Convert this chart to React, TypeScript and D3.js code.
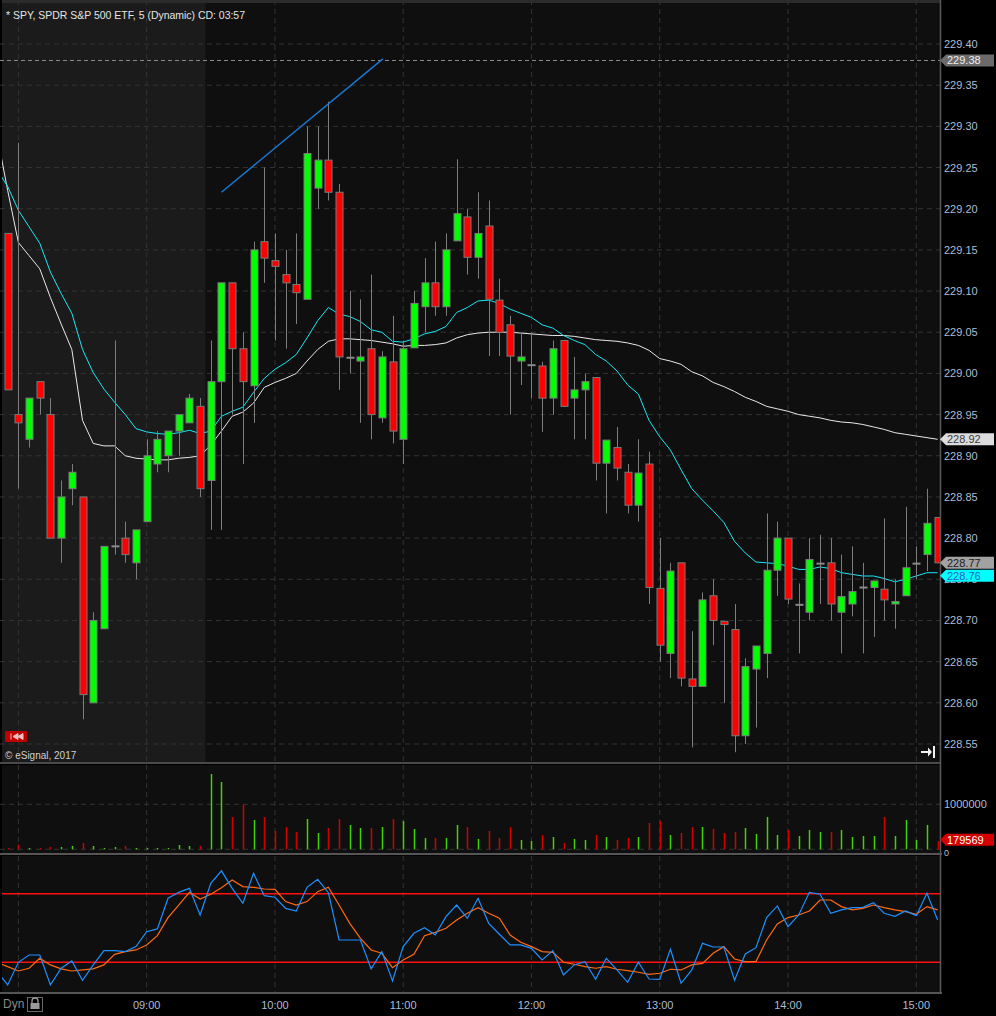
import React from 'react';
import * as d3 from 'd3';

// 5-minute bars, 07:55 .. 15:10
const opens = [
  229.17, 228.95, 228.92, 228.99, 228.95, 228.80, 228.86, 228.85, 228.60, 228.69,
  228.79, 228.80, 228.77, 228.82, 228.89, 228.90, 228.93, 228.94, 228.96, 228.87,
  228.99, 229.11, 229.03, 228.985, 229.16, 229.137, 229.12, 229.108, 229.09, 229.225,
  229.259, 229.22, 229.019, 229.015, 229.03, 228.946, 229.014, 228.92, 229.031, 229.081,
  229.11, 229.081, 229.161, 229.19, 229.141, 229.179, 229.089, 229.059, 229.015, 229.01,
  229.009, 228.97, 229.04, 228.97, 228.98, 228.995, 228.891, 228.91, 228.88, 228.84,
  228.89, 228.739, 228.66, 228.77, 228.629, 228.62, 228.73, 228.699, 228.689, 228.56,
  228.641, 228.66, 228.761, 228.80, 228.719, 228.71, 228.769, 228.77, 228.71, 228.72,
  228.74, 228.74, 228.738, 228.72, 228.73, 228.769, 228.78, 228.825,
];
const highs = [
  229.17, 229.28, 228.97, 228.99, 228.97, 228.87, 228.89, 228.85, 228.71, 228.79,
  229.04, 228.82, 228.81, 228.92, 228.93, 228.93, 228.95, 228.975, 228.97, 229.04,
  229.11, 229.11, 229.05, 229.16, 229.25, 229.17, 229.15, 229.17, 229.30, 229.30,
  229.33, 229.23, 229.10, 229.09, 229.12, 229.027, 229.07, 229.04, 229.10, 229.14,
  229.16, 229.17, 229.26, 229.20, 229.22, 229.21, 229.115, 229.07, 229.05, 229.05,
  229.014, 229.04, 229.04, 229.02, 229.00, 228.995, 228.919, 228.935, 228.89, 228.92,
  228.905, 228.80, 228.77, 228.77, 228.687, 228.734, 228.75, 228.699, 228.72, 228.654,
  228.669, 228.83, 228.82, 228.80, 228.745, 228.80, 228.804, 228.80, 228.78, 228.79,
  228.77, 228.748, 228.824, 228.75, 228.838, 228.79, 228.86, 228.825,
];
const lows = [
  228.98, 228.86, 228.91, 228.95, 228.80, 228.77, 228.84, 228.58, 228.60, 228.69,
  228.78, 228.77, 228.75, 228.82, 228.88, 228.88, 228.90, 228.94, 228.85, 228.81,
  228.81, 228.95, 228.89, 228.94, 229.11, 229.04, 229.03, 229.06, 229.09, 229.20,
  229.21, 228.98, 229.00, 228.94, 228.92, 228.94, 228.915, 228.89, 229.031, 229.05,
  229.07, 229.07, 229.161, 229.12, 229.115, 229.021, 229.021, 228.95, 228.986, 228.97,
  228.929, 228.95, 228.96, 228.92, 228.92, 228.87, 228.83, 228.87, 228.83, 228.82,
  228.72, 228.65, 228.63, 228.62, 228.546, 228.62, 228.67, 228.60, 228.54, 228.55,
  228.57, 228.63, 228.73, 228.72, 228.66, 228.70, 228.72, 228.70, 228.66, 228.705,
  228.66, 228.68, 228.70, 228.69, 228.73, 228.75, 228.76, 228.77,
];
const closes = [
  228.98, 228.94, 228.97, 228.97, 228.80, 228.85, 228.88, 228.61, 228.70, 228.79,
  228.79, 228.78, 228.81, 228.90, 228.92, 228.93, 228.95, 228.97, 228.86, 228.99,
  229.11, 229.03, 228.99, 229.15, 229.14, 229.13, 229.11, 229.098, 229.267, 229.259,
  229.22, 229.02, 229.019, 229.02, 228.95, 229.02, 228.93, 229.03, 229.085, 229.11,
  229.081, 229.15, 229.194, 229.141, 229.17, 229.09, 229.05, 229.021, 229.02, 229.01,
  228.97, 229.03, 228.96, 228.98, 228.99, 228.891, 228.919, 228.885, 228.84, 228.879,
  228.74, 228.67, 228.76, 228.63, 228.62, 228.725, 228.70, 228.695, 228.56, 228.644,
  228.669, 228.761, 228.80, 228.726, 228.719, 228.774, 228.769, 228.72, 228.729, 228.735,
  228.74, 228.748, 228.725, 228.723, 228.764, 228.769, 228.818, 228.77,
];
const volumes = [
  30000, 104000, 30000, 30000, 52000, 52000, 74000, 141000, 74000, 30000,
  52000, 74000, 30000, 30000, 30000, 30000, 96000, 74000, 74000, 1674000,
  1496000, 719000, 1000000, 652000, 719000, 407000, 496000, 385000, 674000, 363000,
  474000, 674000, 541000, 474000, 474000, 496000, 674000, 630000, 452000, 252000,
  252000, 252000, 541000, 496000, 230000, 407000, 252000, 496000, 207000, 185000,
  319000, 274000, 141000, 230000, 207000, 319000, 274000, 207000, 252000, 274000,
  585000, 630000, 319000, 363000, 496000, 496000, 452000, 363000, 385000, 474000,
  341000, 719000, 319000, 430000, 296000, 430000, 385000, 385000, 430000, 274000,
  296000, 296000, 719000, 296000, 652000, 207000, 541000, 179569,
];
// moving averages start one bar earlier (07:50) so the lines reach the left edge
const fastMa = [
  229.247,
  229.227, 229.198, 229.178, 229.158, 229.123, 229.097, 229.073, 229.029, 229.001, 228.981,
  228.965, 228.95, 228.933, 228.929, 228.927, 228.926, 228.928, 228.931, 228.927, 228.93,
  228.948, 228.954, 228.959, 228.977, 228.994, 229.005, 229.013, 229.023, 229.043, 229.064,
  229.08, 229.072, 229.069, 229.063, 229.053, 229.05, 229.039, 229.038, 229.042, 229.048,
  229.051, 229.057, 229.074, 229.08, 229.088, 229.089, 229.085, 229.078, 229.073, 229.068,
  229.059, 229.055, 229.046, 229.04, 229.035, 229.023, 229.015, 229.003, 228.986, 228.975,
  228.943, 228.923, 228.907, 228.883, 228.86, 228.846, 228.833, 228.819, 228.796, 228.782,
  228.771, 228.77, 228.769, 228.766, 228.762, 228.762, 228.765, 228.763, 228.758, 228.756,
  228.754, 228.754, 228.751, 228.747, 228.75, 228.754, 228.758, 228.758,
];
const slowMa = [
  229.29,
  229.222, 229.159, 229.143, 229.127, 229.092, 229.06, 229.029, 228.943, 228.915, 228.912,
  228.912, 228.90, 228.897, 228.896, 228.895, 228.895, 228.897, 228.898, 228.90, 228.913,
  228.93, 228.948, 228.953, 228.964, 228.983, 228.989, 228.994, 229.0, 229.015, 229.029,
  229.039, 229.042, 229.042, 229.041, 229.04, 229.038, 229.036, 229.033, 229.034, 229.034,
  229.035, 229.037, 229.043, 229.047, 229.049, 229.05, 229.05, 229.05, 229.049, 229.048,
  229.047, 229.046, 229.046, 229.045, 229.043, 229.041, 229.04, 229.039, 229.037, 229.034,
  229.028, 229.018, 229.015, 229.011, 229.002, 228.997, 228.989, 228.984, 228.978, 228.971,
  228.966, 228.96, 228.957, 228.954, 228.95, 228.948, 228.946, 228.943, 228.941, 228.94,
  228.938, 228.935, 228.932, 228.928, 228.926, 228.924, 228.922, 228.92,
];
const stochK = [
  12,
  0.2, 20, 26.4, 26.4, 0.2, 14.8, 21.2, 4.3, 17.7, 30.2,
  30.2, 29.3, 33.7, 46.8, 49.2, 76, 81.2, 84.7, 61.4, 89.1,
  100, 84.7, 71.6, 97.8, 78.3, 76.9, 67.2, 64.9, 85.6, 92.6,
  80.9, 39.5, 39.5, 39.5, 14.2, 29.3, 3.7, 33.7, 45.4, 50.3,
  43.9, 59.9, 70.1, 58.5, 76, 54.1, 44.5, 35.2, 35.2, 32.2,
  22, 30.2, 8.9, 17.7, 20.6, 5.1, 23.5, 13.3, 2.5, 20,
  5.4, 5.1, 31.4, 1.6, 13.3, 36.6, 33.4, 33.4, 4.3, 27.3,
  32.8, 59.1, 69.3, 51.2, 61.4, 81.2, 79.5, 62.9, 65.8, 67.8,
  68.1, 72.2, 62.9, 60.2, 64.9, 60.8, 80.3, 57,
];
const stochD = [
  20,
  16.2, 12.4, 14.8, 23.5, 17.7, 14.2, 12.4, 13.3, 14.2, 17.7,
  27, 29.3, 30.8, 35.2, 43.3, 59.1, 70.1, 81.2, 75.4, 79.5,
  85.3, 92, 86.2, 85.6, 84.1, 83.8, 73.1, 70.1, 73.1, 81.8,
  85.6, 70.1, 54.1, 41, 30.8, 27.9, 15.3, 22, 27, 43.3,
  46.2, 49.7, 57, 62.9, 67.8, 62.9, 58.5, 43.9, 37.5, 33.7,
  29.3, 28.7, 20, 18.3, 16.2, 14.8, 16.2, 13.9, 12.7, 11.3,
  9.5, 10.4, 13.9, 13.3, 17.7, 19.1, 27.9, 33.7, 22.9, 20.6,
  20.6, 39.5, 53.5, 59.1, 61.4, 64.9, 74.5, 74.5, 68.7, 65.8,
  67.2, 70.1, 67.8, 65.8, 64.3, 62, 68.7, 65.8,
];
const priceTicks = [
  229.40, 229.35, 229.30, 229.25, 229.20, 229.15, 229.10, 229.05, 229.00,
  228.95, 228.90, 228.85, 228.80, 228.75, 228.70, 228.65, 228.60, 228.55,
];
const hourGridBars = [1, 13, 25, 37, 49, 61, 73, 85];
const hourLabels = ['09:00', '10:00', '11:00', '12:00', '13:00', '14:00', '15:00'];
const hourLabelBars = [13, 25, 37, 49, 61, 73, 85];
const trendBars = [20, 35.1];
const trendPrices = [229.22, 229.382];
const alertPrice = 229.38;
const premarketEnd = 18.5;

const W = 996;
const H = 1016;
const PR = 940;
const FONT = '"Liberation Sans", Arial, sans-serif';
const AXIS_CLR = '#aebdd2';
const GRID = '#333333';

function Tag({ yc, text, bg, fg }: { yc: number; text: string; bg: string; fg: string }) {
  const h = 6;
  return (
    <g>
      <polygon
        points={`${PR},${yc} ${PR + 6},${yc - h} ${W - 2},${yc - h} ${W - 2},${yc + h} ${PR + 6},${yc + h}`}
        fill={bg}
      />
      <text x={PR + 7} y={yc + 4} fill={fg} fontSize={11} fontFamily={FONT}>
        {text}
      </text>
    </g>
  );
}

export default function App() {
  const x = d3.scaleLinear().domain([-0.72, 87.22]).range([0, PR]);
  const y = d3.scaleLinear().domain([228.55, 229.4]).range([744, 44]);
  const yVol = d3.scaleLinear().domain([0, 1000000]).range([849.3, 804.3]);
  const yOsc = d3.scaleLinear().domain([20, 80]).range([962.3, 893.7]);

  // indicator arrays carry one leading bar (index -1)
  const priceLine = d3.line<number>().x((_, i) => x(i - 1)).y(d => y(d));
  const oscLine = d3.line<number>().x((_, i) => x(i - 1)).y(d => yOsc(d));

  const shadeX = x(premarketEnd);
  const last = closes.length - 1;

  return (
    <svg
      width={W}
      height={H}
      style={{ position: 'absolute', left: 0, top: 0, background: '#000' }}
    >
      <defs>
        <clipPath id="pricePane">
          <rect x={2} y={0} width={PR - 2} height={763} />
        </clipPath>
        <clipPath id="oscPane">
          <rect x={2} y={856} width={PR - 2} height={136} />
        </clipPath>
      </defs>

      {/* pane backgrounds */}
      <rect x={0} y={0} width={PR} height={763} fill="#0f0f0f" />
      <rect x={0} y={0} width={shadeX} height={763} fill="#1b1b1b" />
      <rect x={0} y={0} width={PR} height={3} fill="#2b2b2b" />
      <rect x={0} y={765} width={PR} height={88} fill="#0f0f0f" />
      <rect x={0} y={856} width={PR} height={137} fill="#0f0f0f" />
      <rect x={0} y={0} width={2} height={993} fill="#000" />

      {/* price grid */}
      {priceTicks.map(p => (
        <line key={p} x1={0} x2={PR} y1={y(p)} y2={y(p)} stroke={GRID} strokeDasharray="5,4" />
      ))}
      {hourGridBars.map(b => (
        <g key={b}>
          <line x1={x(b)} x2={x(b)} y1={0} y2={763} stroke={GRID} strokeDasharray="5,4" />
          <line x1={x(b)} x2={x(b)} y1={765} y2={853} stroke={GRID} strokeDasharray="5,4" />
          <line x1={x(b)} x2={x(b)} y1={856} y2={993} stroke={GRID} strokeDasharray="5,4" />
        </g>
      ))}

      {/* alert line */}
      <line x1={0} x2={PR} y1={y(alertPrice)} y2={y(alertPrice)} stroke="#8c8c8c" strokeDasharray="4,3" />

      <g clipPath="url(#pricePane)">
        {/* moving averages */}
        <path d={priceLine(slowMa) || ''} fill="none" stroke="#e8e8e8" strokeWidth={1} />
        <path d={priceLine(fastMa) || ''} fill="none" stroke="#19e6f5" strokeWidth={1} />

        {/* candles */}
        {opens.map((o, i) => {
          const c = closes[i];
          const cx = Math.round(x(i)) + 0.5;
          const up = c >= o;
          const top = y(Math.max(o, c));
          const bot = y(Math.min(o, c));
          return (
            <g key={i}>
              <line x1={cx} x2={cx} y1={y(highs[i])} y2={y(lows[i])} stroke="#7d7d7d" strokeWidth={1} />
              {o === c ? (
                <line x1={cx - 4} x2={cx + 4} y1={top} y2={top} stroke="#8a8a8a" strokeWidth={2} />
              ) : (
                <rect
                  x={cx - 3.5}
                  y={top}
                  width={7}
                  height={Math.max(1.5, bot - top)}
                  fill={up ? '#00ff00' : '#ff0000'}
                  stroke="#7a7a7a"
                  strokeWidth={1}
                />
              )}
            </g>
          );
        })}

        {/* trend line */}
        <line
          x1={x(trendBars[0])}
          y1={y(trendPrices[0])}
          x2={x(trendBars[1])}
          y2={y(trendPrices[1])}
          stroke="#1a78d2"
          strokeWidth={1.5}
        />
      </g>

      {/* header */}
      <text
        x={6}
        y={19}
        fill="#e4e4e4"
        fontSize={11.5}
        fontFamily={FONT}
        textLength={239}
        lengthAdjust="spacingAndGlyphs"
      >
        * SPY, SPDR S&amp;P 500 ETF, 5 (Dynamic) CD: 03:57
      </text>

      {/* small widgets in price pane */}
      <rect x={5} y={731} width={22} height={11} rx={1} fill="#c00000" />
      <path d="M11,733.5 L11,739.5 M18,733.5 L13,736.5 L18,739.5 Z M23,733.5 L18,736.5 L23,739.5 Z" stroke="#f0c0c0" fill="#f0c0c0" strokeWidth={1} />
      <text x={5} y={759} fill="#d0d0d0" fontSize={10} fontFamily={FONT}>
        © eSignal, 2017
      </text>
      <path d="M921,751 L928,751 L928,747.5 L932,752 L928,756.5 L928,753 L921,753 Z" fill="#f2f2f2" />
      <rect x={933} y={746} width={2} height={12} fill="#f2f2f2" />

      {/* volume */}
      <line x1={0} x2={PR} y1={yVol(1000000)} y2={yVol(1000000)} stroke={GRID} strokeDasharray="5,4" />
      <line x1={0} x2={PR} y1={yVol(0)} y2={yVol(0)} stroke={GRID} strokeDasharray="5,4" />
      {volumes.map((v, i) => (
        <line
          key={i}
          x1={Math.round(x(i)) + 0.5}
          x2={Math.round(x(i)) + 0.5}
          y1={yVol(0)}
          y2={yVol(v)}
          stroke={closes[i] >= opens[i] ? '#42d400' : '#d40000'}
          strokeWidth={1.5}
        />
      ))}

      {/* oscillator */}
      <g clipPath="url(#oscPane)">
        <line x1={0} x2={PR} y1={yOsc(80)} y2={yOsc(80)} stroke="#ff1010" strokeWidth={1.5} />
        <line x1={0} x2={PR} y1={yOsc(20)} y2={yOsc(20)} stroke="#ff1010" strokeWidth={1.5} />
        <path d={oscLine(stochD) || ''} fill="none" stroke="#ff6a10" strokeWidth={1.2} />
        <path d={oscLine(stochK) || ''} fill="none" stroke="#1e90ff" strokeWidth={1.2} />
      </g>

      {/* pane separators */}
      <rect x={0} y={762} width={PR} height={2} fill="#4a4a4a" />
      <rect x={0} y={853} width={PR + 2} height={2} fill="#555" />
      <rect x={0} y={992} width={PR + 2} height={2} fill="#555" />
      <rect x={0} y={994} width={W} height={H - 994} fill="#000" />
      <line x1={PR + 0.5} x2={PR + 0.5} y1={0} y2={994} stroke="#5a5a5a" strokeWidth={1.5} />

      {/* right axis */}
      {priceTicks.map(p => (
        <text key={p} x={944} y={y(p) + 4} fill={AXIS_CLR} fontSize={11} fontFamily={FONT}>
          {p.toFixed(2)}
        </text>
      ))}
      <text x={944} y={yVol(1000000) + 4} fill={AXIS_CLR} fontSize={11} fontFamily={FONT}>
        1000000
      </text>

      <Tag yc={y(alertPrice)} text={alertPrice.toFixed(2)} bg="#6b6b6b" fg="#ececec" />
      <Tag yc={y(slowMa[slowMa.length - 1])} text={slowMa[slowMa.length - 1].toFixed(2)} bg="#dcdcdc" fg="#3a3a3a" />
      <Tag yc={y(closes[last])} text={closes[last].toFixed(2)} bg="#a2a2a2" fg="#202020" />
      <Tag yc={y(fastMa[fastMa.length - 1]) + 3} text={fastMa[fastMa.length - 1].toFixed(2)} bg="#00ffff" fg="#2a5cc0" />
      <Tag yc={yVol(volumes[last]) - 1.5} text={String(volumes[last])} bg="#d40000" fg="#ffffff" />
      <text x={944} y={856} fill={AXIS_CLR} fontSize={9} fontFamily={FONT}>
        0
      </text>

      {/* time axis */}
      {hourLabels.map((t, i) => (
        <text
          key={t}
          x={x(hourLabelBars[i])}
          y={1009}
          fill={AXIS_CLR}
          fontSize={11}
          fontFamily={FONT}
          textAnchor="middle"
        >
          {t}
        </text>
      ))}
      <text x={3} y={1008} fill="#8a8a8a" fontSize={12} fontFamily={FONT}>
        Dyn
      </text>
      <rect x={27.5} y={997.5} width={15} height={14} fill="none" stroke="#6a6a6a" />
      <path d="M32,1003 L32,1001 A3,3 0 0 1 38,1001 L38,1003" fill="none" stroke="#9a9a9a" strokeWidth={1.3} />
      <rect x={30.5} y={1003} width={9} height={6} fill="#9a9a9a" />
    </svg>
  );
}
